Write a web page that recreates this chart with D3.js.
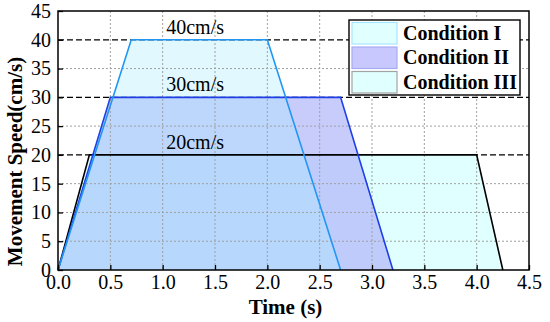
<!DOCTYPE html>
<html>
<head>
<meta charset="utf-8">
<script src="https://cdn.jsdelivr.net/npm/d3@7"></script>
<style>
  body { margin: 0; background: #fff; }
  text { font-family: "Liberation Serif", "Times New Roman", serif; }
</style>
</head>
<body>
<div id="chart"></div>
<script>
// profiles: time (s) and speed (cm/s) for each condition
var times1 = [0, 0.7, 2.0, 2.7],
  speeds1 = [0, 40, 40, 0];
var times2 = [0, 0.5, 2.7, 3.2],
  speeds2 = [0, 30, 30, 0];
var times3 = [0, 0.3, 4.0, 4.25],
  speeds3 = [0, 20, 20, 0];
var levels = [20, 30, 40];
var levelLabels = ["20cm/s", "30cm/s", "40cm/s"];
var legendNames = ["Condition I", "Condition II", "Condition III"];
var xTicks = [0, 0.5, 1, 1.5, 2, 2.5, 3, 3.5, 4, 4.5];
var yTicks = [0, 5, 10, 15, 20, 25, 30, 35, 40, 45];

var margin = { top: 11, right: 21, bottom: 52, left: 58 },
  width = 550 - margin.left - margin.right,
  height = 322 - margin.top - margin.bottom;

var x = d3.scaleLinear().domain([0, 4.5]).range([0, width]);
var y = d3.scaleLinear().domain([0, 45]).range([height, 0]);

var svg = d3
  .select("#chart")
  .append("svg")
  .attr("width", 550)
  .attr("height", 322)
  .append("g")
  .attr("transform", "translate(" + margin.left + "," + margin.top + ")");

// build the series (drawn III first, then II, then I on top)
var series = [
  { t: times3, v: speeds3, fill: "#e0ffff", op: 1, stroke: "#000000" },
  { t: times2, v: speeds2, fill: "rgb(176,182,249)", op: 0.7, stroke: "#1f3fe6" },
  { t: times1, v: speeds1, fill: "rgb(170,235,255)", op: 0.35, stroke: "#2196f3" }
];

var line = d3
  .line()
  .x(function (d) { return x(d[0]); })
  .y(function (d) { return y(d[1]); });

// dashed reference lines
svg
  .selectAll(".ref")
  .data(levels)
  .enter()
  .append("line")
  .attr("x1", 0)
  .attr("x2", width)
  .attr("y1", function (d) { return y(d); })
  .attr("y2", function (d) { return y(d); })
  .attr("stroke", "#000")
  .attr("stroke-width", 1.2)
  .attr("stroke-dasharray", "6,3");

// fills
series.forEach(function (s) {
  var pts = s.t.map(function (t, i) { return [t, s.v[i]]; });
  svg
    .append("path")
    .attr("d", line(pts) + "Z")
    .attr("fill", s.fill)
    .attr("fill-opacity", s.op)
    .attr("stroke", "none");
});

// grid (dotted)
svg
  .selectAll(".gx")
  .data(xTicks.slice(1, -1))
  .enter()
  .append("line")
  .attr("x1", function (d) { return x(d); })
  .attr("x2", function (d) { return x(d); })
  .attr("y1", 0)
  .attr("y2", height)
  .attr("stroke", "#a0a0a0")
  .attr("stroke-width", 1)
  .attr("stroke-dasharray", "2,2");

svg
  .selectAll(".gy")
  .data(yTicks.slice(1, -1).filter(function (d) { return levels.indexOf(d) < 0; }))
  .enter()
  .append("line")
  .attr("x1", 0)
  .attr("x2", width)
  .attr("y1", function (d) { return y(d); })
  .attr("y2", function (d) { return y(d); })
  .attr("stroke", "#a0a0a0")
  .attr("stroke-width", 1)
  .attr("stroke-dasharray", "2,2");

// outlines
series.forEach(function (s) {
  var pts = s.t.map(function (t, i) { return [t, s.v[i]]; });
  svg
    .append("path")
    .attr("d", line(pts))
    .attr("fill", "none")
    .attr("stroke", s.stroke)
    .attr("stroke-width", 1.6);
});

// level labels
svg
  .selectAll(".lvl")
  .data(levels)
  .enter()
  .append("text")
  .attr("x", x(1.31))
  .attr("y", function (d) { return y(d) - 6; })
  .attr("text-anchor", "middle")
  .style("font-size", "20px")
  .text(function (d, i) { return levelLabels[i]; });

// axes with inward ticks
var xAxis = svg
  .append("g")
  .attr("transform", "translate(0," + height + ")")
  .call(d3.axisBottom(x).tickValues(xTicks).tickFormat(d3.format(".1f")).tickSizeInner(-5).tickSizeOuter(0).tickPadding(5));
var yAxis = svg
  .append("g")
  .call(d3.axisLeft(y).tickValues(yTicks).tickSizeInner(-5).tickSizeOuter(0).tickPadding(7));

[xAxis, yAxis].forEach(function (a) {
  a.selectAll("text").style("font-size", "20px").attr("fill", "#000").style("font-family", "Liberation Serif");
  a.select(".domain").remove();
  a.selectAll("line").attr("stroke", "#000").attr("stroke-width", 1.3);
});

// frame
svg
  .append("rect")
  .attr("width", width)
  .attr("height", height)
  .attr("fill", "none")
  .attr("stroke", "#000")
  .attr("stroke-width", 1.5);

// axis titles
svg
  .append("text")
  .attr("x", 285.5 - margin.left)
  .attr("y", 314 - margin.top)
  .attr("text-anchor", "middle")
  .style("font-size", "21px")
  .style("font-weight", "bold")
  .text("Time (s)");

svg
  .append("text")
  .attr("transform", "translate(" + (22 - margin.left) + "," + (161.5 - margin.top) + ") rotate(-90)")
  .attr("text-anchor", "middle")
  .style("font-size", "21px")
  .style("font-weight", "bold")
  .text("Movement Speed(cm/s)");

// legend
var legendFill = ["#e0ffff", "#c8c8ff", "#e0ffff"];
var legendStroke = ["#a8e4ff", "#a6acf4", "#a0a4a4"];
var lg = svg.append("g").attr("transform", "translate(" + (349 - margin.left) + "," + (20 - margin.top) + ")");
lg.append("rect")
  .attr("width", 171)
  .attr("height", 75)
  .attr("fill", "#fff")
  .attr("stroke", "#000")
  .attr("stroke-width", 1.4);

var row = lg
  .selectAll(".row")
  .data(legendNames)
  .enter()
  .append("g")
  .attr("transform", function (d, i) { return "translate(3," + (2.5 + i * 24.5) + ")"; });

row
  .append("rect")
  .attr("width", 45)
  .attr("height", 21.5)
  .attr("fill", function (d, i) { return legendFill[i]; })
  .attr("stroke", function (d, i) { return legendStroke[i]; })
  .attr("stroke-width", 1.2);

row
  .append("text")
  .attr("x", 51)
  .attr("y", 17)
  .style("font-size", "20px")
  .style("font-weight", "bold")
  .text(function (d) { return d; });
</script>
</body>
</html>
